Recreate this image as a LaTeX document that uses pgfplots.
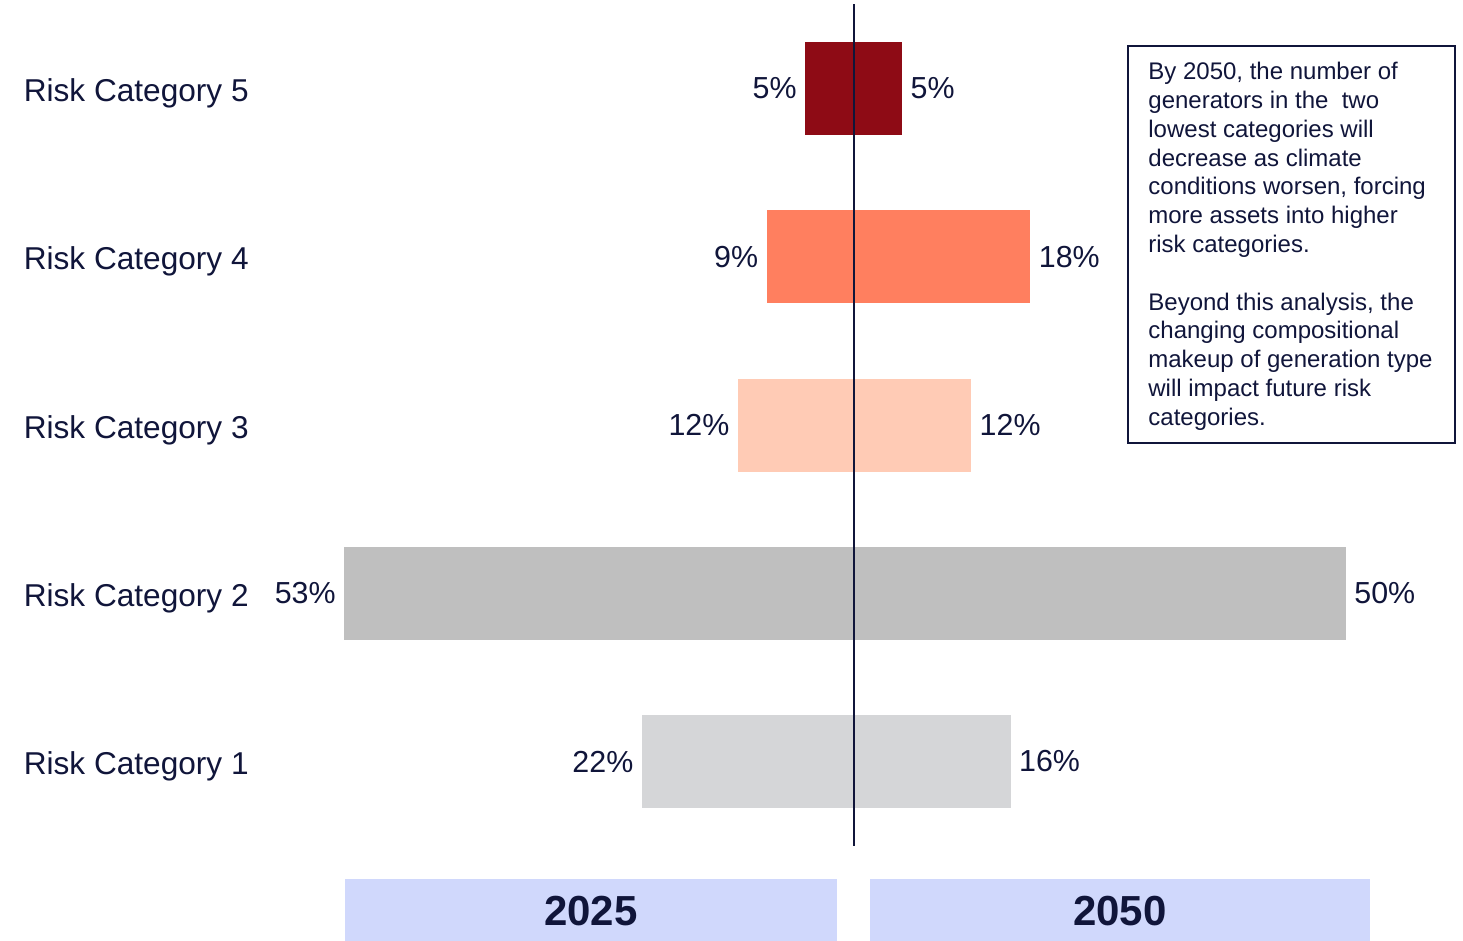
\documentclass[border=0pt]{standalone}
\usepackage{pgfplots}
\pgfplotsset{compat=1.18}
\usepackage{fontspec}
\setmainfont{Liberation Sans}
\definecolor{ink}{HTML}{10153A}
\definecolor{cfive}{HTML}{8E0B15}
\definecolor{cfour}{HTML}{FF7F5F}
\definecolor{cthree}{HTML}{FFCBB5}
\definecolor{ctwo}{HTML}{BFBFBF}
\definecolor{cone}{HTML}{D5D6D8}
\definecolor{yearbg}{HTML}{D0D8FC}

% common look of both halves
\pgfplotsset{
  half/.style={
    xbar, bar shift=0pt, bar width=46.5pt,
    scale only axis, height=420.6pt,
    ymin=0.5, ymax=5.5, xmin=0,
    axis line style={draw=none}, tick style={draw=none},
    xtick=\empty,
    /pgf/number format/assume math mode=true,
    nodes near coords={\pgfmathprintnumber{\pgfplotspointmeta}\%},
    point meta=x,
    every node near coord/.append style={font=\fontsize{15.2}{18}\selectfont, text=ink, inner sep=4pt},
  },
}

\begin{document}
\begin{tikzpicture}[x=1pt,y=1pt]
\useasboundingbox (0,0) rectangle (731.5,-470.5);

% 2025, running to the left
\begin{axis}[half, name=left,
  at={(426.5pt,-422.8pt)}, anchor=south east,
  width=254.5pt, xmax=53, x dir=reverse,
  ytick={1,2,3,4,5},
  yticklabels={Risk Category 1,Risk Category 2,Risk Category 3,Risk Category 4,Risk Category 5},
  yticklabel style={anchor=east, inner sep=0pt, xshift=-43.2pt, yshift=-2.5pt, text=ink, font=\fontsize{15.8}{18}\selectfont},
  every node near coord/.append style={anchor=east},
]
\addplot[fill=cone, draw=none] coordinates {(22,1)};
\addplot[fill=ctwo, draw=none] coordinates {(53,2)};
\addplot[fill=cthree, draw=none] coordinates {(12,3)};
\addplot[fill=cfour, draw=none] coordinates {(9,4)};
\addplot[fill=cfive, draw=none] coordinates {(5,5)};
\end{axis}

% 2050, running to the right
\begin{axis}[half, name=right,
  at={(426.5pt,-422.8pt)}, anchor=south west,
  width=246.5pt, xmax=50,
  ytick=\empty,
  every node near coord/.append style={anchor=west},
]
\addplot[fill=cone, draw=none] coordinates {(16,1)};
\addplot[fill=ctwo, draw=none] coordinates {(50,2)};
\addplot[fill=cthree, draw=none] coordinates {(12,3)};
\addplot[fill=cfour, draw=none] coordinates {(18,4)};
\addplot[fill=cfive, draw=none] coordinates {(5,5)};
\draw[ink, line width=1.5pt] (axis cs:0,0.5) -- (axis cs:0,5.5);
\end{axis}

% note box
\draw[ink, line width=0.8pt] (564,-23) rectangle (727.5,-221.5);
\node[anchor=north west, inner sep=0pt, align=left, text=ink,
      font=\fontsize{12}{14.4}\selectfont] at (574,-31)
  {By 2050, the number of\\
   generators in the\ \ two\\
   lowest categories will\\
   decrease as climate\\
   conditions worsen, forcing\\
   more assets into higher\\
   risk categories.\\[14.4pt]
   Beyond this analysis, the\\
   changing compositional\\
   makeup of generation type\\
   will impact future risk\\
   categories.};

% year bands
\fill[yearbg] (172.5,-439.5) rectangle (418.5,-470.5);
\fill[yearbg] (435,-439.5) rectangle (685,-470.5);
\node[text=ink, font=\fontsize{21}{25}\selectfont\bfseries] at (295.5,-455.5) {2025};
\node[text=ink, font=\fontsize{21}{25}\selectfont\bfseries] at (560,-455.5) {2050};
\end{tikzpicture}
\end{document}
